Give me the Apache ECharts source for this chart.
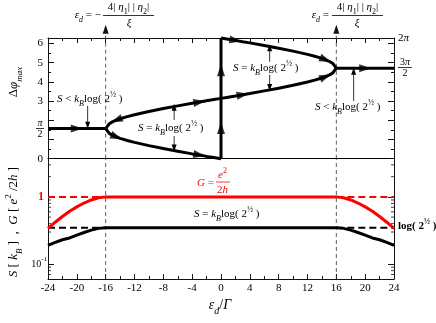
<!DOCTYPE html>
<html><head><meta charset="utf-8">
<script src="https://cdn.jsdelivr.net/npm/echarts@6/dist/echarts.min.js"></script>
<style>html,body{margin:0;padding:0;background:#fff}#c{width:436px;height:323px}</style>
</head><body><div id="c"></div>
<script>
// ---------- data: upper panel (phase difference) ----------
const leftFlatX = [-24, -20, -16];
const leftFlatY = [1.5708, 1.5708, 1.5708];
const branchLX = [-16, -15.5, -15, -14.5, -14, -13, -12, -10, -8, -6, -4, -3, -2, -1, 0];
const upperLY  = [1.57, 1.82, 1.93, 2.01, 2.08, 2.19, 2.29, 2.46, 2.61, 2.75, 2.89, 2.95, 3.02, 3.08, 3.14];
const lowerLY  = [1.57, 1.32, 1.21, 1.13, 1.06, 0.95, 0.85, 0.68, 0.53, 0.39, 0.25, 0.19, 0.12, 0.06, 0.0];
const branchRX = [0, 1, 2, 3, 4, 6, 8, 10, 12, 13, 14, 14.5, 15, 15.5, 16];
const upperRY  = [6.28, 6.22, 6.16, 6.09, 6.03, 5.89, 5.75, 5.60, 5.43, 5.33, 5.22, 5.15, 5.07, 4.96, 4.71];
const lowerRY  = [3.14, 3.20, 3.26, 3.33, 3.39, 3.53, 3.67, 3.82, 3.99, 4.09, 4.20, 4.27, 4.35, 4.46, 4.71];
const jumpX = [0, 0, 0, 0];
const jumpY = [0, 1.6, 4.6, 6.28];
const rightFlatX = [16, 20, 24];
const rightFlatY = [4.71, 4.71, 4.71];
const guideX = [-16, 16];
// annotation arrows: x, start y, tip y
const annoArrows = [
  [-18.5, 2.75, 1.74],
  [-6.5, 2.02, 2.68],
  [-6.5, 1.18, 0.56],
  [6.75, 5.05, 5.78],
  [6.75, 4.37, 3.70],
  [18.4, 3.0, 4.55]
];
// flow arrows on curves: curve, point index, direction
const arrowDefs = [['leftFlat',1,1],['upperL',3,-1],['lowerL',3,1],['upperL',11,1],['lowerL',11,1],
  ['jump',1,1],['jump',2,1],['upperR',2,1],['lowerR',3,1],['upperR',11,1],['lowerR',11,1],['rightFlat',1,1]];
const topYLabels = [0, 3, 4, 5, 6];

// ---------- data: lower panel (S and G, log scale) ----------
const lowX = [-24, -23, -22, -21, -20, -19, -18, -17, -16, 16, 17, 18, 19, 20, 21, 22, 23, 24];
const gY   = [0.34, 0.42, 0.51, 0.61, 0.71, 0.81, 0.90, 0.97, 1.0, 1.0, 0.97, 0.90, 0.81, 0.71, 0.61, 0.51, 0.42, 0.34];
const sY   = [0.19, 0.21, 0.23, 0.245, 0.27, 0.295, 0.32, 0.34, 0.3466, 0.3466, 0.34, 0.32, 0.295, 0.27, 0.245, 0.23, 0.21, 0.19];
const gRef = 1.0;
const sRef = 0.3466;
const logMinorTicks = [0.07, 0.08, 0.09, 0.2, 0.3, 0.4, 0.5, 0.6, 0.7, 0.8, 0.9, 2, 3];

// ---------- chart ----------
const F = 'Liberation Serif';
const PI = Math.PI;
const AX = {color:'#111', width:1};
const curves = {
  leftFlat:[leftFlatX,leftFlatY], upperL:[branchLX,upperLY], lowerL:[branchLX,lowerLY],
  upperR:[branchRX,upperRY], lowerR:[branchRX,lowerRY], jump:[jumpX,jumpY], rightFlat:[rightFlatX,rightFlatY]
};
function zip(xs, ys){ return xs.map((x,i)=>[x, ys[i]]); }
function L(g, xs, ys, color, width, type, z){
  return {type:'line', xAxisIndex:g===0?0:2, yAxisIndex:g===0?0:2, data:zip(xs,ys), symbol:'none',
    lineStyle:{color, width, type:type||'solid'}, clip:false, silent:true, animation:false, z:z||3};
}
const series = [];
// guide dashed lines
guideX.forEach(x=>{
  series.push({type:'line', xAxisIndex:0, yAxisIndex:0, clip:false, silent:true, animation:false,
    symbol:'triangle', symbolSize:[6,9], itemStyle:{color:'#111'}, z:2,
    lineStyle:{color:'#333', width:0.8, type:[4,3]},
    data:[{value:[x,0], symbol:'none'}, {value:[x,6.74]}]});
  series.push(L(1, [x,x], [0.06,3.7], '#333', 0.8, [4,3], 2));
});
Object.keys(curves).forEach(k=>series.push(L(0, curves[k][0], curves[k][1], '#000', 3)));
// lower panel
series.push(L(1, [-24,-16], [gRef,gRef], '#ff0000', 2, [7,4]));
series.push(L(1, [16,24], [gRef,gRef], '#ff0000', 2, [7,4]));
series.push(L(1, [-24,-16], [sRef,sRef], '#000', 2, [7,4]));
series.push(L(1, [16,24], [sRef,sRef], '#000', 2, [7,4]));
series.push(L(1, lowX, gY, '#ff0000', 3));
series.push(L(1, lowX, sY, '#000', 3));
// log minor ticks (left and right borders)
series.push({type:'scatter', xAxisIndex:2, yAxisIndex:2, silent:true, animation:false, clip:false,
  symbol:'rect', symbolSize:[3,1], symbolOffset:[1.5,0], itemStyle:{color:'#111'},
  data: logMinorTicks.map(v=>[-24, v])});
series.push({type:'scatter', xAxisIndex:2, yAxisIndex:2, silent:true, animation:false, clip:false,
  symbol:'rect', symbolSize:[3,1], symbolOffset:[-1.5,0], itemStyle:{color:'#111'},
  data: logMinorTicks.map(v=>[24, v])});
// annotation arrows
annoArrows.forEach(([x,y0,y1])=>{
  series.push({type:'line', xAxisIndex:0, yAxisIndex:0, silent:true, animation:false, clip:false,
    symbol:'triangle', symbolSize:[5,7], itemStyle:{color:'#000'}, lineStyle:{color:'#000', width:0.8}, z:4,
    data:[{value:[x,y0], symbol:'none'}, {value:[x,y1], symbolRotate: y1>y0?0:180}]});
});

function rich(size, color, bold){
  const w = bold?'bold':'normal', lh = Math.round(size*1.55);
  return {
    n:{fontSize:size, fontFamily:F, fontWeight:w, fill:color, lineHeight:lh},
    i:{fontSize:size, fontFamily:F, fontStyle:'italic', fontWeight:w, fill:color, lineHeight:lh},
    sub:{fontSize:Math.round(size*0.72), fontFamily:F, fontStyle:'italic', fontWeight:w, fill:color, verticalAlign:'bottom'},
    subn:{fontSize:Math.round(size*0.72), fontFamily:F, fontWeight:w, fill:color, verticalAlign:'bottom'},
    sup:{fontSize:Math.round(size*0.72), fontFamily:F, fontWeight:w, fill:color, verticalAlign:'top'}
  };
}
function T(x, y, text, size, color, align, bold, rot){
  return {type:'text', x, y, rotation:rot||0, silent:true, z:100,
    style:{text, fontSize:size, fontFamily:F, fill:color, fontWeight:bold?'bold':'normal',
      align:align||'left', verticalAlign:'middle', rich:rich(size,color,bold)}};
}
function B(x1, x2, y, color){
  return {type:'line', silent:true, z:100, shape:{x1, y1:y, x2, y2:y}, style:{stroke:color||'#000', lineWidth:0.8}};
}
const SEQ = '{i|S}{n| = }{i|k}{sub|B}{n|log( 2}{sup|½}{n| )}';
const SLT = '{i|S}{n| < }{i|k}{sub|B}{n|log( 2}{sup|½}{n| )}';
const ETA = '{n|4| }{i|η}{subn|1}{n|| | }{i|η}{subn|2}{n||}';
const graphic = [
  T(101, 15, '{i|ε}{sub|d}{n| = −}', 11, '#000', 'right'),
  T(128.5, 7, ETA, 11, '#000', 'center'), B(103, 154, 15.5), T(129, 23, '{i|ξ}', 11, '#000', 'center'),
  T(329, 15, '{i|ε}{sub|d}{n| =}', 11, '#000', 'right'),
  T(357.5, 7, ETA, 11, '#000', 'center'), B(332, 383, 15.5), T(357, 23, '{i|ξ}', 11, '#000', 'center'),
  T(40, 123.5, '{i|π}', 10, '#000', 'center'), B(36, 44, 128.5), T(40, 134.5, '{n|2}', 10, '#000', 'center'),
  T(398, 38, '{n|2}{i|π}', 11, '#000', 'left'),
  T(405, 62, '{n|3}{i|π}', 10, '#000', 'center'), B(398, 412, 67.5), T(405, 73.5, '{n|2}', 10, '#000', 'center'),
  T(57, 99, SLT, 11, '#000', 'left'),
  T(138, 128, SEQ, 11, '#000', 'left'),
  T(233, 68, SEQ, 11, '#000', 'left'),
  T(315, 107, SLT, 11, '#000', 'left'),
  T(214, 183, '{i|G}{n| =}', 11, '#ff0000', 'right'),
  T(222.5, 175, '{i|e}{sup|2}', 11, '#ff0000', 'center'), B(216, 230, 182, '#ff0000'), T(222.5, 190, '{n|2}{i|h}', 11, '#ff0000', 'center'),
  T(194, 214, SEQ, 11, '#000', 'left'),
  T(398, 226, '{n|log( 2}{sup|½}{n| )}', 11, '#000', 'left', true),
  T(44, 197, '{n|1}', 12, '#ff0000', 'right', true),
  T(47, 264, '{n|10}{sup|-1}', 10, '#000', 'right'),
  T(14, 82, '{n|Δ}{i|φ}{sub|max}', 13, '#000', 'center', false, PI/2),
  T(14, 222, '{i|S}{n| [ }{i|k}{sub|B}{n| ]  ,  }{i|G}{n| [ }{i|e}{sup|2}{n| /2}{i|h}{n| ]}', 13, '#000', 'center', false, PI/2),
  T(220, 305, '{i|ε}{sub|d}{n|/}{i|Γ}', 14, '#000', 'center')
];

const tickLbl = {fontFamily:F, fontSize:11, color:'#000'};
const option = {
  animation:false,
  backgroundColor:'#fff',
  grid:[
    {left:48, top:38, width:346, height:120.7},
    {left:48, top:158.7, width:346, height:120.3}
  ],
  xAxis:[
    {gridIndex:0, type:'value', min:-24, max:24, interval:4, position:'bottom',
      axisLine:{show:true, onZero:false, lineStyle:{color:'#000', width:1}}, axisTick:{show:false}, axisLabel:{show:false}, splitLine:{show:false}},
    {gridIndex:0, type:'value', min:-24, max:24, interval:4, position:'top',
      axisLine:{show:true, onZero:false, lineStyle:AX}, axisTick:{show:true, inside:true, length:5, lineStyle:AX},
      minorTick:{show:true, splitNumber:2, length:3, lineStyle:AX}, axisLabel:{show:false}, splitLine:{show:false}},
    {gridIndex:1, type:'value', min:-24, max:24, interval:4, position:'bottom',
      axisLine:{show:true, onZero:false, lineStyle:AX}, axisTick:{show:true, inside:true, length:5, lineStyle:AX},
      minorTick:{show:true, splitNumber:2, length:3, lineStyle:AX}, axisLabel:Object.assign({margin:4}, tickLbl), splitLine:{show:false}}
  ],
  yAxis:[
    {gridIndex:0, type:'value', min:0, max:2*PI, interval:1, position:'left',
      axisLine:{show:true, onZero:false, lineStyle:AX}, axisTick:{show:true, inside:true, length:6, lineStyle:AX},
      minorTick:{show:true, splitNumber:2, length:3, lineStyle:AX}, splitLine:{show:false},
      axisLabel:Object.assign({margin:5, formatter:v=>topYLabels.indexOf(v)>=0?String(v):''}, tickLbl)},
    {gridIndex:0, type:'value', min:0, max:2*PI, interval:1, position:'right',
      axisLine:{show:true, onZero:false, lineStyle:AX}, axisTick:{show:true, inside:true, length:6, lineStyle:AX},
      minorTick:{show:true, splitNumber:2, length:3, lineStyle:AX}, splitLine:{show:false}, axisLabel:{show:false}},
    {gridIndex:1, type:'log', min:0.06, max:3.7, position:'left',
      axisLine:{show:true, onZero:false, lineStyle:AX}, axisTick:{show:true, inside:true, length:6, lineStyle:AX},
      splitLine:{show:false}, axisLabel:{show:false}},
    {gridIndex:1, type:'log', min:0.06, max:3.7, position:'right',
      axisLine:{show:true, onZero:false, lineStyle:AX}, axisTick:{show:true, inside:true, length:6, lineStyle:AX},
      splitLine:{show:false}, axisLabel:{show:false}}
  ],
  series,
  graphic
};
const chart = echarts.init(document.getElementById('c'), null, {renderer:'canvas'});
chart.setOption(option);
const arrowData = arrowDefs.map(([k,i,d])=>{
  const xs = curves[k][0], ys = curves[k][1];
  const a = chart.convertToPixel({gridIndex:0}, [xs[i-1], ys[i-1]]);
  const b = chart.convertToPixel({gridIndex:0}, [xs[i+1], ys[i+1]]);
  const dx = d*(b[0]-a[0]), dy = d*(b[1]-a[1]);
  return {value:[xs[i], ys[i]], symbolRotate: Math.atan2(-dy, dx)*180/PI - 90};
});
option.series = series.concat([{type:'scatter', xAxisIndex:0, yAxisIndex:0, silent:true, animation:false, clip:false,
  symbol:'triangle', symbolSize:[8,12], itemStyle:{color:'#000'}, z:6, data:arrowData}]);
chart.setOption(option);
</script></body></html>
